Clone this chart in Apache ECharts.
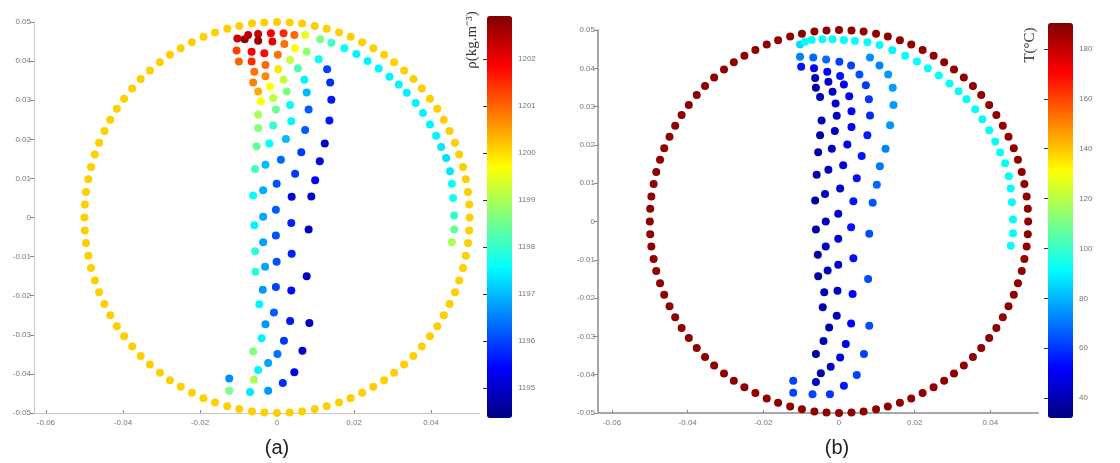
<!DOCTYPE html>
<html>
<head>
<meta charset="utf-8">
<title>density / temperature field</title>
<script src="https://cdn.jsdelivr.net/npm/echarts@6/dist/echarts.min.js"></script>
<style>
html, body { margin: 0; padding: 0; background: #fff; }
#main { width: 1120px; height: 463px; }
</style>
</head>
<body>
<div id="main"></div>
<script>
// outer wall ring (r = 0.05), same in both panels
var ringX = [0.05,0.0499,0.0496,0.049,0.0483,0.0473,0.0462,0.0448,0.0433,0.0416,0.0397,0.0376,0.0354,0.033,0.0304,0.0278,0.025,0.0221,0.0191,0.0161,0.0129,0.0098,0.0065,0.0033,0,
    -0.0033,-0.0065,-0.0098,-0.0129,-0.0161,-0.0191,-0.0221,-0.025,-0.0278,-0.0304,-0.033,-0.0354,-0.0376,-0.0397,-0.0416,-0.0433,-0.0448,-0.0462,-0.0473,-0.0483,-0.049,-0.0496,-0.0499,-0.05,
    -0.0499,-0.0496,-0.049,-0.0483,-0.0473,-0.0462,-0.0448,-0.0433,-0.0416,-0.0397,-0.0376,-0.0354,-0.033,-0.0304,-0.0278,-0.025,-0.0221,-0.0191,-0.0161,-0.0129,-0.0098,-0.0065,-0.0033,0,
    0.0033,0.0065,0.0098,0.0129,0.0161,0.0191,0.0221,0.025,0.0278,0.0304,0.033,0.0354,0.0376,0.0397,0.0416,0.0433,0.0448,0.0462,0.0473,0.0483,0.049,0.0496,0.0499];
var ringY = [0,0.0033,0.0065,0.0098,0.0129,0.0161,0.0191,0.0221,0.025,0.0278,0.0304,0.033,0.0354,0.0376,0.0397,0.0416,0.0433,0.0448,0.0462,0.0473,0.0483,0.049,0.0496,0.0499,0.05,
    0.0499,0.0496,0.049,0.0483,0.0473,0.0462,0.0448,0.0433,0.0416,0.0397,0.0376,0.0354,0.033,0.0304,0.0278,0.025,0.0221,0.0191,0.0161,0.0129,0.0098,0.0065,0.0033,0,
    -0.0033,-0.0065,-0.0098,-0.0129,-0.0161,-0.0191,-0.0221,-0.025,-0.0278,-0.0304,-0.033,-0.0354,-0.0376,-0.0397,-0.0416,-0.0433,-0.0448,-0.0462,-0.0473,-0.0483,-0.049,-0.0496,-0.0499,-0.05,
    -0.0499,-0.0496,-0.049,-0.0483,-0.0473,-0.0462,-0.0448,-0.0433,-0.0416,-0.0397,-0.0376,-0.0354,-0.033,-0.0304,-0.0278,-0.025,-0.0221,-0.0191,-0.0161,-0.0129,-0.0098,-0.0065,-0.0033];
var ringRho = 1200.1;
var ringT = 188;

// inner arc along the right wall
var arcX = [0.0141,0.0175,0.0206,0.0235,0.0264,0.0292,0.0316,0.0337,0.036,0.0379,0.0397,0.0413,0.0426,0.0439,0.0449,0.0454,0.0457,0.046,0.046,0.0454];
var arcY = [0.0447,0.0433,0.0418,0.04,0.0381,0.036,0.034,0.0319,0.0293,0.0267,0.0238,0.0209,0.018,0.0152,0.0118,0.0086,0.005,0.0005,-0.0031,-0.0063];
var arcRho = [1198.1,1197.6,1197.5,1197.5,1197.5,1197.5,1197.5,1197.5,1197.5,1197.5,1197.5,1197.5,1197.4,1197.3,1197.4,1197.6,1197.7,1198.0,1198.4,1199.0];
var arcT = [90,92,92,92,92,92,92,92,92,92,92,92,92,92,92,92,92,92,92,92];

// (a) interior points
var aX = [-0.0103,-0.0084,-0.0075,-0.0049,-0.0049,-0.0016,-0.0012,0.0017,0.0045,0.0073,0.0112,
    -0.0105,-0.0066,-0.0033,0.0002,0.0019,0.0047,0.0077,0.0108,0.013,
    -0.0099,-0.0066,-0.003,0.0003,0.0034,0.0054,0.0071,0.0138,
    -0.0059,-0.003,0.0017,0.0025,0.0077,0.0141,
    -0.0062,-0.0049,-0.0018,-0.001,0.0034,0.0082,0.0136,
    -0.0042,-0.0049,-0.0003,0.0037,0.0073,0.0124,
    -0.0049,-0.001,0.0023,0.0063,0.0111,
    -0.0053,-0.002,0.001,0.0047,0.0099,
    -0.0057,-0.003,-0.0001,0.0038,0.0089,
    -0.0062,-0.0036,-0.0003,
    -0.0036,-0.0059,0.0037,0.0082,-0.0003,-0.0036,-0.0057,0.0038,-0.0001,-0.0031,-0.0056,0.0077,-0.0003,-0.0037,0.0037,-0.0046,-0.0008,
    -0.003,0.0034,0.0084,-0.004,0.0018,-0.0062,0.0001,0.0066,-0.0023,-0.0049,0.0045,-0.006,0.0015,-0.0124,-0.0124,-0.007,-0.0023];
var aY = [0.0458,0.0456,0.0467,0.0469,0.0452,0.0471,0.045,0.0471,0.0467,0.0467,0.0456,
    0.0427,0.0424,0.042,0.0416,0.0444,0.0433,0.0424,0.0405,0.0379,
    0.0399,0.0399,0.039,0.0379,0.0403,0.0382,0.0352,0.0345,
    0.0373,0.0361,0.0352,0.0322,0.032,0.0301,
    0.0345,0.0322,0.0335,0.0305,0.0288,0.0276,0.0248,
    0.0297,0.0263,0.0276,0.0246,0.0224,0.0189,
    0.0229,0.0235,0.0201,0.0167,0.0144,
    0.0182,0.0189,0.0148,0.0112,0.0095,
    0.0124,0.0135,0.0086,0.0053,0.0054,
    0.0056,0.007,0.002,
    0.0002,-0.002,-0.0014,-0.0031,-0.0046,-0.0063,-0.0086,-0.0093,-0.0113,-0.0126,-0.0139,-0.015,-0.0178,-0.0185,-0.0187,-0.0222,-0.0243,
    -0.0273,-0.0265,-0.027,-0.0309,-0.0315,-0.0343,-0.0349,-0.0341,-0.0372,-0.039,-0.0396,-0.0415,-0.0423,-0.0412,-0.0443,-0.0446,-0.0443];
var aRho = [1202.3,1202.7,1202.4,1202.3,1202.7,1201.9,1202.0,1201.5,1201.0,1199.5,1198.6,
    1201.3,1201.9,1201.8,1200.9,1200.9,1199.7,1198.8,1197.6,1196.0,
    1201.0,1201.5,1201.0,1199.9,1199.2,1198.2,1197.5,1195.8,
    1200.9,1200.7,1199.2,1198.6,1197.0,1195.6,
    1200.8,1200.4,1199.7,1199.2,1197.6,1196.2,1195.6,
    1199.7,1199.0,1198.5,1197.5,1196.2,1195.0,
    1198.7,1198.0,1197.0,1195.9,1195.1,
    1198.4,1197.6,1196.3,1195.9,1195.4,
    1198.1,1197.0,1196.1,1195.2,1195.0,
    1197.6,1196.9,1196.2,
    1196.8,1197.5,1195.7,1194.9,1196.1,1196.8,1197.9,1195.7,1196.1,1196.8,1197.9,1194.9,1196.0,1196.7,1195.5,1197.5,1196.2,
    1196.7,1195.6,1194.9,1197.5,1195.9,1198.7,1196.4,1195.0,1196.8,1197.5,1195.2,1199.0,1195.8,1196.6,1198.6,1197.4,1196.7];

// (b) interior points
var bX = [-0.0103,-0.009,-0.0072,-0.0044,-0.0017,0.0013,0.0042,0.0075,0.0107,
    -0.0103,-0.0068,-0.0034,0.0001,0.0032,0.0082,0.0107,
    -0.01,-0.0066,-0.0031,0.0003,0.0054,0.013,
    -0.0063,-0.0028,0.0013,0.0071,0.0142,
    -0.0061,-0.0017,0.0027,0.0079,
    -0.005,-0.0009,0.0033,0.0082,0.0144,
    -0.0046,-0.0006,0.0033,0.0075,0.0135,
    -0.005,-0.0011,0.0022,0.006,0.0123,
    -0.0055,-0.0019,0.0011,0.0047,0.0108,
    -0.0059,-0.0028,0.0003,0.0038,0.01,
    -0.0063,-0.0037,-0.0002,0.0089,
    -0.0061,-0.0035,-0.0002,0.0032,0.008,
    -0.0056,-0.0035,-0.0002,0.0038,
    -0.0055,-0.003,-0.0039,-0.0004,0.0036,0.0077,
    -0.0043,-0.0006,-0.0026,0.0032,0.008,
    -0.0041,0.0018,-0.0061,0.0003,0.0066,
    -0.0022,-0.0048,0.0047,-0.0061,0.0013,
    -0.0121,-0.0121,-0.007,-0.0024];
var bY = [0.0462,0.0469,0.0474,0.0476,0.0476,0.0474,0.0471,0.0468,0.0461,
    0.043,0.0428,0.0423,0.0417,0.0407,0.0428,0.0407,
    0.0404,0.04,0.0391,0.038,0.0384,0.0384,
    0.0375,0.0365,0.0358,0.0356,0.0349,
    0.0349,0.0339,0.0327,0.0319,
    0.0325,0.0308,0.0288,0.0277,0.0304,
    0.0264,0.0276,0.0247,0.0225,0.0251,
    0.0225,0.0236,0.0201,0.0171,0.019,
    0.0181,0.019,0.0147,0.0113,0.0144,
    0.0122,0.0135,0.0086,0.0053,0.0096,
    0.0055,0.0072,0.002,0.0049,
    -0.0021,0,-0.0045,-0.0015,-0.0032,
    -0.0087,-0.0065,-0.0113,-0.0096,
    -0.0143,-0.0128,-0.0185,-0.0181,-0.0189,-0.015,
    -0.0224,-0.0246,-0.0277,-0.0266,-0.0272,
    -0.0312,-0.032,-0.0346,-0.0355,-0.0346,
    -0.0379,-0.0396,-0.0401,-0.0419,-0.0429,
    -0.0416,-0.0447,-0.0451,-0.0451];
var bT = [86,92,92,92,92,92,92,92,92,
    72,68,68,62,62,74,72,
    55,50,52,55,64,76,
    42,44,50,60,76,
    40,44,50,60,
    40,44,50,58,76,
    40,42,50,56,75,
    38,42,48,55,72,
    38,42,46,54,70,
    38,42,45,55,68,
    38,42,44,65,
    38,42,44,54,64,
    38,42,44,54,
    38,42,40,44,52,64,
    38,42,40,52,64,
    40,48,38,48,62,
    42,40,62,42,55,
    62,62,62,60];

// axis ticks
var xTicks = [-0.06, -0.04, -0.02, 0, 0.02, 0.04];
var yTicks = [-0.05, -0.04, -0.03, -0.02, -0.01, 0, 0.01, 0.02, 0.03, 0.04, 0.05];
var rhoTicks = [1195, 1196, 1197, 1198, 1199, 1200, 1201, 1202];
var tTicks = [40, 60, 80, 100, 120, 140, 160, 180];

var jet = ['#000080', '#0000ff', '#0080ff', '#00ffff', '#80ff80', '#ffff00', '#ff8000', '#ff0000', '#800000'];

function pts(xs, ys, vs) {
    var out = [];
    for (var i = 0; i < xs.length; i++) {
        out.push([xs[i], ys[i], typeof vs === 'number' ? vs : vs[i]]);
    }
    return out;
}

function plain(v) {
    return String(v);
}

function scatter(idx, data) {
    return {
        type: 'scatter',
        xAxisIndex: idx,
        yAxisIndex: idx,
        symbol: 'circle',
        symbolSize: 8,
        itemStyle: { opacity: 1 },
        data: data
    };
}

function axisX(idx, min, max, col, w) {
    return {
        gridIndex: idx, type: 'value', min: min, max: max,
        axisLine: { onZero: false, lineStyle: { color: col, width: w } },
        axisTick: { inside: true, length: 3, customValues: xTicks, lineStyle: { color: '#888' } },
        axisLabel: { customValues: xTicks, formatter: plain, fontSize: 8, color: '#777', margin: 6, fontFamily: 'Liberation Sans' },
        splitLine: { show: false }
    };
}

function axisY(idx, col, w) {
    return {
        gridIndex: idx, type: 'value', min: -0.05, max: 0.05,
        axisLine: { onZero: false, lineStyle: { color: col, width: w } },
        axisTick: { length: 4, customValues: yTicks, lineStyle: { color: '#888' } },
        axisLabel: { customValues: yTicks, formatter: plain, fontSize: 8, color: '#777', margin: 3, fontFamily: 'Liberation Sans' },
        splitLine: { show: false }
    };
}

function barAxis(idx, min, max, ticks) {
    return {
        gridIndex: idx, type: 'value', position: 'right', min: min, max: max,
        axisLine: { show: false },
        axisTick: { inside: true, length: 4, customValues: ticks, lineStyle: { color: '#333' } },
        axisLabel: { customValues: ticks, formatter: plain, fontSize: 8, color: '#777', margin: 6, fontFamily: 'Liberation Sans' },
        splitLine: { show: false }
    };
}

var chart = echarts.init(document.getElementById('main'));
var option = {
    backgroundColor: '#fff',
    animation: false,
    grid: [
        { left: 34, top: 22, width: 446, height: 391 },
        { left: 598, top: 30, width: 440, height: 383 },
        { left: 487, top: 16, width: 25, height: 402 },
        { left: 1048, top: 23, width: 25, height: 395 }
    ],
    xAxis: [
        axisX(0, -0.0631, 0.0527, '#c8c8c8', 1),
        axisX(1, -0.0637, 0.0526, '#a8a8a8', 2),
        { gridIndex: 2, type: 'value', show: false },
        { gridIndex: 3, type: 'value', show: false }
    ],
    yAxis: [
        axisY(0, '#c8c8c8', 1),
        axisY(1, '#a8a8a8', 2),
        barAxis(2, 1194.36, 1202.91, rhoTicks),
        barAxis(3, 32, 190.4, tTicks)
    ],
    visualMap: [
        {
            type: 'continuous', seriesIndex: [0, 1, 2], dimension: 2,
            min: 1194.36, max: 1202.91, inRange: { color: jet },
            calculable: false, hoverLink: false, padding: 0,
            left: 487, top: 16, itemWidth: 25, itemHeight: 402
        },
        {
            type: 'continuous', seriesIndex: [3, 4, 5], dimension: 2,
            min: 32, max: 190.4, inRange: { color: jet },
            calculable: false, hoverLink: false, padding: 0,
            left: 1048, top: 23, itemWidth: 25, itemHeight: 395
        }
    ],
    series: [
        scatter(0, pts(ringX, ringY, ringRho)),
        scatter(0, pts(arcX, arcY, arcRho)),
        scatter(0, pts(aX, aY, aRho)),
        scatter(1, pts(ringX, ringY, ringT)),
        scatter(1, pts(arcX, arcY, arcT)),
        scatter(1, pts(bX, bY, bT))
    ],
    graphic: [
        { type: 'text', x: 277, y: 448, style: { text: '(a)', fontSize: 20, fontFamily: 'Liberation Sans', fill: '#222', align: 'center', verticalAlign: 'middle' } },
        { type: 'text', x: 837, y: 448, style: { text: '(b)', fontSize: 20, fontFamily: 'Liberation Sans', fill: '#222', align: 'center', verticalAlign: 'middle' } },
        { type: 'text', x: 472, y: 40, rotation: Math.PI / 2, style: { text: 'ρ(kg.m⁻³)', fontSize: 15, fontFamily: 'Liberation Serif', fill: '#333', align: 'center', verticalAlign: 'middle' } },
        { type: 'text', x: 1030, y: 45, rotation: Math.PI / 2, style: { text: 'T(°C)', fontSize: 15, fontFamily: 'Liberation Serif', fill: '#333', align: 'center', verticalAlign: 'middle' } }
    ]
};
chart.setOption(option);
</script>
</body>
</html>
